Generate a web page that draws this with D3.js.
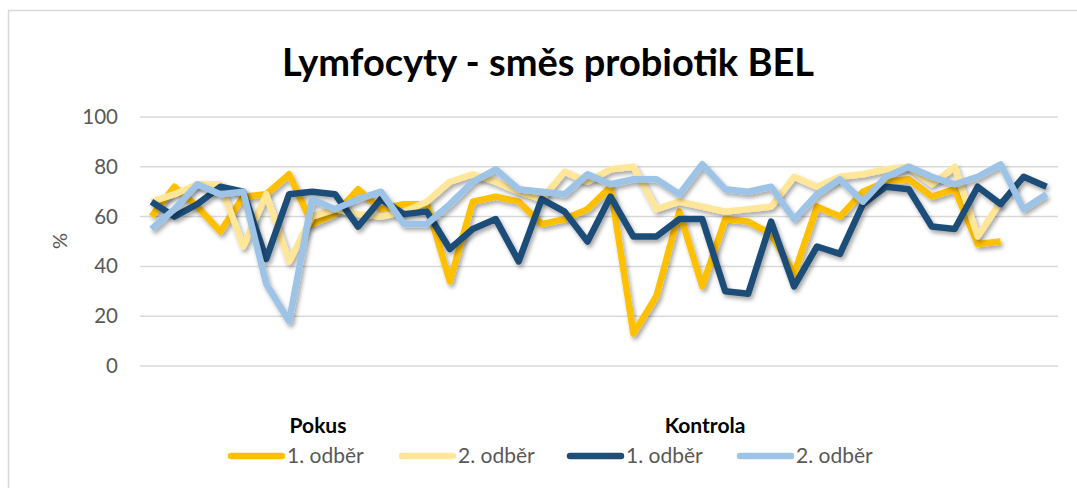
<!DOCTYPE html>
<html>
<head>
<meta charset="utf-8">
<script src="https://cdn.jsdelivr.net/npm/d3@7"></script>
<style>
  body { margin: 0; background: #fff; }
  text { font-family: Lato, "Open Sans", sans-serif; }
</style>
</head>
<body>
<div id="chart"></div>
<script>
const svgWidth = 1077
const svgHeight = 488

// sample numbers (1..40)
const samples = d3.range(1, 41)

const pokus1 = [60, 72, 64, 54, 68, 69, 77, 57, 61, 71, 63, 65, 65, 34, 66, 68, 66, 57, 59, 63,
    72, 13, 28, 62, 32, 59, 58, 53, 37, 64, 60, 70, 74, 75, 68, 71, 49, 50]
const pokus2 = [66, 69, 73, 73, 48, 69, 42, 60, 63, 61, 60, 62, 66, 74, 77, 74, 70, 67, 78, 74,
    79, 80, 63, 66, 64, 62, 63, 64, 76, 72, 76, 77, 79, 80, 73, 80, 52, 66]
const kontrola1 = [66, 60, 65, 72, 70, 43, 69, 70, 69, 56, 67, 61, 62, 47, 55, 59, 42, 67, 62, 50,
    68, 52, 52, 59, 59, 30, 29, 58, 32, 48, 45, 65, 72, 71, 56, 55, 72, 65, 76, 72]
const kontrola2 = [55, 63, 73, 69, 70, 33, 18, 67, 63, 67, 70, 57, 57, 65, 74, 79, 71, 70, 69, 77,
    73, 75, 75, 69, 81, 71, 70, 72, 59, 69, 75, 66, 76, 80, 76, 73, 76, 81, 63, 69]

const yTicks = [0, 20, 40, 60, 80, 100]

const series = [
    { name: "1. odběr", values: pokus1, color: "#FFC000" },
    { name: "2. odběr", values: pokus2, color: "#FFE699" },
    { name: "1. odběr", values: kontrola1, color: "#1F4E79" },
    { name: "2. odběr", values: kontrola2, color: "#9DC3E6" }
]

const plot = { left: 140, right: 1058, top: 117, bottom: 366 }

const svg = d3.select("#chart").append("svg")
    .attr("width", svgWidth)
    .attr("height", svgHeight)

const defs = svg.append("defs")
const shadow = defs.append("filter")
    .attr("id", "shadow")
    .attr("x", "-10%").attr("y", "-10%")
    .attr("width", "120%").attr("height", "130%")
shadow.append("feDropShadow")
    .attr("dx", 2)
    .attr("dy", 3)
    .attr("stdDeviation", 2)
    .attr("flood-color", "#000")
    .attr("flood-opacity", 0.35)

// chart border
svg.append("rect")
    .attr("x", 8.5)
    .attr("y", 10.5)
    .attr("width", 1075)
    .attr("height", 500)
    .attr("fill", "#fff")
    .attr("stroke", "#D9D9D9")
    .attr("stroke-width", 1.5)

svg.append("text")
    .attr("x", 548)
    .attr("y", 76)
    .attr("text-anchor", "middle")
    .attr("font-size", 38)
    .attr("font-weight", "bold")
    .attr("fill", "#000")
    .text("Lymfocyty - směs probiotik BEL")

const x = d3.scalePoint()
    .domain(samples)
    .range([plot.left, plot.right])
    .padding(0.5)

const y = d3.scaleLinear()
    .domain([0, 100])
    .range([plot.bottom, plot.top])

// gridlines
svg.append("g")
    .selectAll("line")
    .data(yTicks)
    .enter()
    .append("line")
    .attr("x1", plot.left)
    .attr("x2", plot.right)
    .attr("y1", d => y(d))
    .attr("y2", d => y(d))
    .attr("stroke", "#D9D9D9")
    .attr("stroke-width", 1.5)

const yAxisG = svg.append("g")
    .attr("transform", `translate(${plot.left - 22}, 0)`)
    .call(d3.axisLeft(y).tickValues(yTicks).tickSize(0).tickPadding(0))
yAxisG.select(".domain").remove()
yAxisG.selectAll("text")
    .attr("font-family", "Lato, sans-serif")
    .attr("font-size", 20.5)
    .attr("fill", "#595959")

svg.append("text")
    .attr("transform", "translate(67, 241) rotate(-90)")
    .attr("text-anchor", "middle")
    .attr("font-size", 20)
    .attr("fill", "#595959")
    .text("%")

const line = d3.line()
    .x((d, i) => x(samples[i]))
    .y(d => y(d))

svg.append("g")
    .selectAll("path")
    .data(series)
    .enter()
    .append("path")
    .attr("d", d => line(d.values))
    .attr("fill", "none")
    .attr("stroke", d => d.color)
    .attr("stroke-width", 6.5)
    .attr("stroke-linejoin", "round")
    .attr("filter", "url(#shadow)")

// legend
svg.append("text")
    .attr("x", 318)
    .attr("y", 433)
    .attr("text-anchor", "middle")
    .attr("font-size", 21)
    .attr("font-weight", "bold")
    .text("Pokus")

svg.append("text")
    .attr("x", 705)
    .attr("y", 433)
    .attr("text-anchor", "middle")
    .attr("font-size", 21)
    .attr("font-weight", "bold")
    .text("Kontrola")

const legendX = [228, 399, 567, 737]

const legendG = svg.append("g")
    .selectAll("g")
    .data(series)
    .enter()
    .append("g")
    .attr("transform", (d, i) => `translate(${legendX[i]}, 456)`)

legendG.append("line")
    .attr("x1", 3)
    .attr("x2", 54)
    .attr("stroke", d => d.color)
    .attr("stroke-width", 6.5)
    .attr("stroke-linecap", "round")

legendG.append("text")
    .attr("x", 59)
    .attr("dy", "0.35em")
    .attr("font-size", 21)
    .attr("fill", "#595959")
    .text(d => d.name)
</script>
</body>
</html>
